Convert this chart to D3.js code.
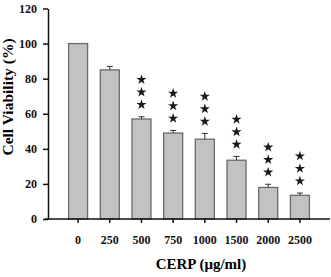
<!DOCTYPE html>
<html>
<head>
<meta charset="utf-8">
<script src="https://cdn.jsdelivr.net/npm/d3@7"></script>
<style>
  body { margin: 0; background: #fff; }
  svg { display: block; }
  .axis text { font-family: "Liberation Serif", "Times New Roman", serif; font-weight: bold; font-size: 12px; fill: #111; }
  .axis path, .axis line { stroke: #111; stroke-width: 1.5; }
</style>
</head>
<body>
<div id="chart"></div>
<script>
// CERP dose (µg/ml) vs cell viability (%)
var doses = ["0", "250", "500", "750", "1000", "1500", "2000", "2500"];
var viability = [100, 85, 57, 49, 45.5, 33.5, 18, 13.5];
var sem = [0, 2, 1.3, 1.5, 3.3, 2.2, 1.8, 1.3];
var signif = ["", "", "***", "***", "***", "***", "***", "***"];
var yTicks = [0, 20, 40, 60, 80, 100, 120];

var W = 331, H = 277;
var svg = d3.select("#chart").append("svg").attr("width", W).attr("height", H);

var x = d3.scaleBand().domain(doses).range([48, 330]).paddingInner(0.4).paddingOuter(0.65);
var y = d3.scaleLinear().domain([0, 120]).range([219, 8.5]);

var data = doses.map(function(d, i) {
    return {dose: d, v: viability[i], e: sem[i], s: signif[i]};
});

// bars
svg.selectAll(".bar")
   .data(data)
   .enter()
   .append("rect")
   .attr("class", "bar")
   .attr("x", function(d) { return x(d.dose); })
   .attr("y", function(d) { return y(d.v); })
   .attr("width", x.bandwidth())
   .attr("height", function(d) { return y(0) - y(d.v); })
   .style("fill", "#c2c2c2")
   .style("stroke", "#6a6a6a")
   .style("stroke-width", 1.3);

// error bars (upper half only)
var eb = svg.selectAll(".err")
   .data(data.filter(function(d) { return d.e > 0; }))
   .enter()
   .append("g")
   .attr("class", "err")
   .style("stroke", "#333")
   .style("stroke-width", 1);
eb.append("line")
   .attr("x1", function(d) { return x(d.dose) + x.bandwidth() / 2; })
   .attr("x2", function(d) { return x(d.dose) + x.bandwidth() / 2; })
   .attr("y1", function(d) { return y(d.v); })
   .attr("y2", function(d) { return y(d.v + d.e); });
eb.append("line")
   .attr("x1", function(d) { return x(d.dose) + x.bandwidth() / 2 - 3; })
   .attr("x2", function(d) { return x(d.dose) + x.bandwidth() / 2 + 3; })
   .attr("y1", function(d) { return y(d.v + d.e); })
   .attr("y2", function(d) { return y(d.v + d.e); });

// significance stars, stacked
var starGap = 12.5;
data.forEach(function(d) {
    var n = d.s.length;
    for (var k = 0; k < n; k++) {
        svg.append("path")
           .attr("d", d3.symbol().type(d3.symbolStar).size(32))
           .attr("transform", "translate(" + (x(d.dose) + x.bandwidth() / 2) + "," + (y(d.v + d.e) - 12 - k * starGap) + ")")
           .style("fill", "#1a1a1a");
    }
});

// axes
var xAxis = svg.append("g")
   .attr("class", "axis")
   .attr("transform", "translate(0," + y(0) + ")")
   .call(d3.axisBottom(x).tickSize(4).tickPadding(12).tickSizeOuter(0));
xAxis.select(".domain").attr("d", "M45,0H330");

svg.append("g")
   .attr("class", "axis")
   .attr("transform", "translate(48,0)")
   .call(d3.axisLeft(y).tickValues(yTicks).tickSize(5).tickPadding(6).tickSizeOuter(0));

// axis titles
svg.append("text")
   .attr("x", 201)
   .attr("y", 269)
   .attr("text-anchor", "middle")
   .style("font-family", "Liberation Serif, serif")
   .style("font-weight", "bold")
   .style("font-size", "15px")
   .text("CERP (\u03bcg/ml)");

svg.append("text")
   .attr("transform", "translate(13,97) rotate(-90)")
   .attr("text-anchor", "middle")
   .style("font-family", "Liberation Serif, serif")
   .style("font-weight", "bold")
   .style("font-size", "15.5px")
   .text("Cell Viability (%)");
</script>
</body>
</html>
